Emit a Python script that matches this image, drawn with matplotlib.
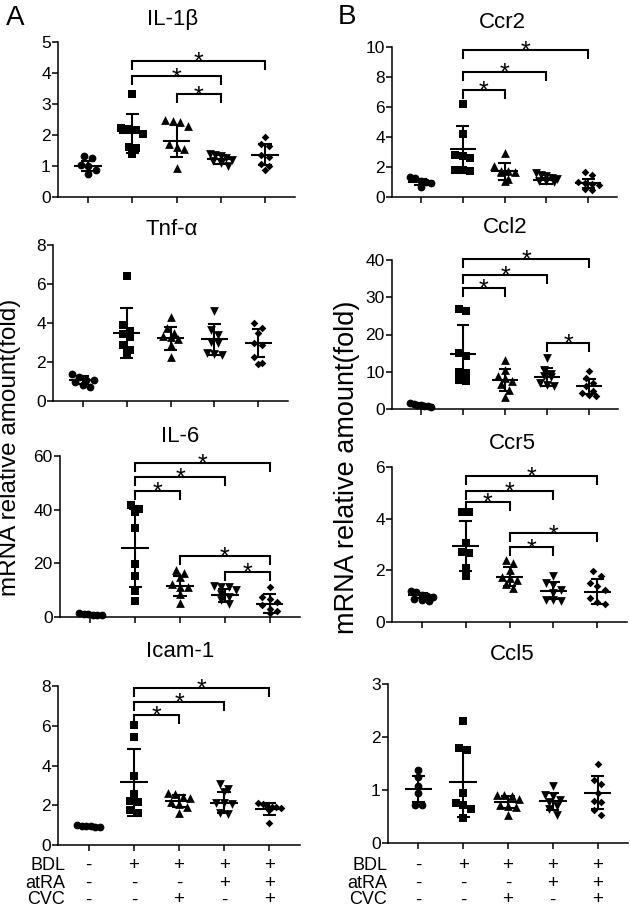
import numpy as np
import matplotlib
matplotlib.use('Agg')
import matplotlib.pyplot as plt
from matplotlib.transforms import blended_transform_factory

plt.rcParams['font.family'] = ['Liberation Sans', 'DejaVu Sans']

# ---------------- data ----------------
il1b = [[1.32, 1.26, 1.02, 1.00, 0.86, 0.73],
        [3.31, 2.24, 2.20, 2.17, 2.04, 1.61, 1.58, 1.40],
        [2.48, 2.45, 2.42, 2.30, 1.70, 1.62, 1.55, 0.93],
        [1.40, 1.37, 1.33, 1.25, 1.20, 1.15, 1.10, 1.00],
        [1.94, 1.70, 1.65, 1.37, 1.29, 1.08, 1.00, 0.86]]
il1b_mean = [1.00, 2.06, 1.80, 1.21, 1.37]
il1b_sd = [0.17, 0.63, 0.51, 0.16, 0.33]
il1b_sig = [(1, 4, 4.39), (1, 3, 3.89), (2, 3, 3.31)]

ccr2 = [[1.35, 1.30, 1.05, 1.00, 0.95, 0.70],
        [6.20, 4.20, 2.80, 2.75, 2.60, 1.80, 1.80, 1.75],
        [2.96, 2.10, 1.75, 1.72, 1.68, 1.65, 1.22, 1.10],
        [1.60, 1.50, 1.40, 1.25, 1.20, 1.10, 1.05, 1.00],
        [1.67, 1.44, 1.00, 0.95, 0.90, 0.80, 0.55, 0.45]]
ccr2_mean = [1.00, 3.18, 1.73, 1.16, 0.93]
ccr2_sd = [0.22, 1.55, 0.57, 0.30, 0.30]
ccr2_sig = [(1, 4, 9.78), (1, 3, 8.33), (1, 2, 7.16)]

tnfa = [[1.38, 1.25, 1.10, 1.06, 0.99, 0.82, 0.73],
        [6.43, 3.90, 3.60, 3.42, 3.30, 2.87, 2.62, 2.44],
        [4.32, 3.73, 3.50, 3.33, 3.30, 3.20, 2.87, 2.27],
        [4.63, 3.64, 3.38, 3.04, 2.99, 2.48, 2.41, 2.36],
        [3.98, 3.73, 3.50, 2.96, 2.87, 2.27, 1.97, 1.90]]
tnfa_mean = [1.08, 3.50, 3.21, 3.16, 2.96]
tnfa_sd = [0.20, 1.27, 0.57, 0.81, 0.72]
tnfa_sig = []

ccl2 = [[1.6, 1.3, 1.1, 1.0, 0.9, 0.7, 0.5],
        [26.8, 26.3, 15.0, 14.1, 9.9, 9.6, 7.7, 7.6],
        [13.2, 10.5, 8.75, 8.3, 7.4, 6.8, 5.2, 3.2],
        [13.7, 10.5, 9.4, 8.75, 8.5, 7.0, 6.5, 6.3],
        [10.1, 8.3, 7.1, 6.1, 4.7, 4.3, 3.8, 3.4]]
ccl2_mean = [1.0, 14.8, 7.7, 8.6, 6.1]
ccl2_sd = [0.3, 7.7, 3.0, 2.4, 1.95]
ccl2_sig = [(1, 4, 40.2), (1, 3, 36.0), (1, 2, 32.4), (3, 4, 17.7)]

il6 = [[1.5, 1.2, 1.0, 0.9, 0.8, 0.6],
       [41.7, 40.2, 39.0, 33.2, 19.9, 15.3, 9.6, 5.9],
       [17.4, 16.4, 14.9, 12.2, 11.2, 11.0, 8.7, 5.2],
       [11.5, 11.3, 11.0, 10.2, 8.7, 7.5, 6.2, 4.7],
       [11.2, 7.5, 6.8, 5.6, 4.4, 3.1, 2.1, 1.5]]
il6_mean = [1.0, 25.8, 11.5, 8.1, 5.0]
il6_sd = [0.3, 14.5, 3.8, 2.5, 3.4]
il6_sig = [(1, 4, 57.3), (1, 3, 52.3), (1, 2, 47.1), (2, 4, 22.7), (3, 4, 16.8)]

ccr5 = [[1.20, 1.15, 1.05, 1.00, 0.95, 0.90, 0.85, 0.80],
        [4.27, 4.25, 3.05, 2.70, 2.68, 2.10, 1.78],
        [2.40, 2.28, 2.02, 1.76, 1.70, 1.63, 1.48, 1.31],
        [1.79, 1.50, 1.44, 1.25, 1.12, 0.86, 0.84, 0.80],
        [1.99, 1.80, 1.50, 1.38, 1.25, 0.93, 0.76, 0.71]]
ccr5_mean = [1.03, 2.94, 1.76, 1.21, 1.18]
ccr5_sd = [0.10, 0.97, 0.38, 0.32, 0.47]
ccr5_sig = [(1, 4, 5.66), (1, 3, 5.06), (1, 2, 4.65), (2, 4, 3.43), (2, 3, 2.89)]

icam1 = [[1.00, 0.98, 0.97, 0.95, 0.93, 0.92],
         [6.04, 5.42, 3.47, 2.57, 2.23, 2.18, 1.76, 1.63],
         [2.63, 2.57, 2.40, 2.35, 2.18, 2.06, 1.93, 1.63],
         [3.07, 2.80, 2.65, 2.13, 2.10, 2.08, 1.60, 1.56],
         [2.13, 2.06, 1.98, 1.93, 1.91, 1.85, 1.76, 1.12]]
icam1_mean = [0.96, 3.15, 2.23, 2.13, 1.80]
icam1_sd = [0.03, 1.70, 0.31, 0.54, 0.29]
icam1_sig = [(1, 4, 7.89), (1, 3, 7.21), (1, 2, 6.54)]

ccl5 = [[1.37, 1.24, 1.08, 0.94, 0.72, 0.72],
        [2.30, 1.79, 1.75, 0.94, 0.75, 0.71, 0.64, 0.48],
        [0.91, 0.90, 0.88, 0.83, 0.72, 0.69, 0.68, 0.53],
        [1.08, 0.91, 0.89, 0.82, 0.77, 0.70, 0.64, 0.53],
        [1.50, 1.19, 1.12, 0.94, 0.79, 0.78, 0.62, 0.53]]
ccl5_mean = [1.02, 1.16, 0.77, 0.79, 0.95]
ccl5_sd = [0.25, 0.66, 0.11, 0.16, 0.31]
ccl5_sig = []

row_labels = ['BDL', 'atRA', 'CVC']
bdl = ['-', '+', '+', '+', '+']
atra = ['-', '-', '-', '+', '+']
cvc = ['-', '-', '+', '-', '+']
ylabel = 'mRNA relative amount(fold)'

# ---------------- figure ----------------
W, H = 630, 909
fig = plt.figure(figsize=(W / 100, H / 100), dpi=100)

markers = ['o', 's', '^', 'v', 'D']
msizes = [5.6, 5.3, 6.3, 6.3, 3.9]
LW = 1.5


def px_axes(x0, y0, x1, y1):
    return fig.add_axes([x0 / W, 1 - y1 / H, (x1 - x0) / W, (y1 - y0) / H])


def swarm_offsets(vals, ppu, mpx=6.5, step=0.17, maxhalf=0.25):
    vals = np.asarray(vals, float)
    order = np.argsort(-vals, kind='stable')
    rows, cur = [], [order[0]]
    for i in order[1:]:
        if (vals[cur[0]] - vals[i]) * ppu < mpx:
            cur.append(i)
        else:
            rows.append(cur)
            cur = [i]
    rows.append(cur)
    xo = np.zeros(len(vals))
    for r in rows:
        n = len(r)
        st = step if n == 1 else min(step, 2 * maxhalf / (n - 1))
        for j, i in enumerate(r):
            xo[i] = (j - (n - 1) / 2) * st
    return xo


def draw_panel(box, data, means, sds, ymax, ystep, sig, title, tpos):
    ax = px_axes(*box)
    ax.set_xlim(-0.68, 4.68)
    ax.set_ylim(0, ymax)
    ppu = (box[3] - box[1]) / ymax
    for g, vals in enumerate(data):
        xo = swarm_offsets(vals, ppu)
        ax.scatter(g + xo, vals, marker=markers[g], s=msizes[g] ** 2,
                   c='black', linewidths=0, zorder=3, clip_on=False)
        m, s = means[g], sds[g]
        kw = dict(color='black', lw=LW, zorder=4, solid_capstyle='butt', clip_on=False)
        ax.plot([g - 0.31, g + 0.31], [m, m], **kw)
        ax.plot([g, g], [m - s, m + s], **kw)
        ax.plot([g - 0.15, g + 0.15], [m + s, m + s], **kw)
        ax.plot([g - 0.15, g + 0.15], [m - s, m - s], **kw)
    t = 9 / ppu
    for (i, j, y) in sig:
        ax.plot([i, i, j, j], [y - t, y, y, y - t], color='black', lw=LW,
                clip_on=False, solid_joinstyle='miter', solid_capstyle='butt')
        ax.annotate('*', xy=((i + j) / 2, y), xytext=(0, -6.5),
                    textcoords='offset points', ha='center', va='baseline',
                    fontsize=18, annotation_clip=False)
    for sp in ['top', 'right']:
        ax.spines[sp].set_visible(False)
    for sp in ['left', 'bottom']:
        ax.spines[sp].set_linewidth(1.1)
    ax.set_xticks(range(5))
    ax.set_xticklabels([])
    yt = np.arange(0, ymax + ystep / 2, ystep)
    ax.set_yticks(yt)
    ax.set_yticklabels([f'{v:g}' for v in yt])
    ax.tick_params(axis='both', direction='out', length=4, width=1.1,
                   labelsize=12.5, pad=1.2)
    fig.text(tpos[0] / W, 1 - tpos[1] / H, title, ha='center', va='baseline',
             fontsize=16)
    return ax


draw_panel((58, 42, 295, 197), il1b, il1b_mean, il1b_sd, 5, 1, il1b_sig, 'IL-1β', (173, 25))
draw_panel((392, 47, 617, 197), ccr2, ccr2_mean, ccr2_sd, 10, 2, ccr2_sig, 'Ccr2', (502, 28))
draw_panel((53, 245, 288, 401), tnfa, tnfa_mean, tnfa_sd, 8, 2, tnfa_sig, 'Tnf-α', (172, 235))
draw_panel((392, 260, 618, 409), ccl2, ccl2_mean, ccl2_sd, 40, 10, ccl2_sig, 'Ccl2', (505, 233))
draw_panel((60, 456, 300, 617), il6, il6_mean, il6_sd, 60, 20, il6_sig, 'IL-6', (180, 442))
draw_panel((392, 467, 627, 622), ccr5, ccr5_mean, ccr5_sd, 6, 2, ccr5_sig, 'Ccr5', (512, 449))
axA4 = draw_panel((58, 686, 300, 845), icam1, icam1_mean, icam1_sd, 8, 2, icam1_sig, 'Icam-1', (180, 657))
axB4 = draw_panel((388, 684, 628, 843), ccl5, ccl5_mean, ccl5_sd, 3, 1, ccl5_sig, 'Ccl5', (512, 660))

# treatment table
baselines = [870, 888, 904.5]
for ax, xr in [(axA4, 65), (axB4, 387)]:
    tr = blended_transform_factory(ax.transData, fig.transFigure)
    for r, (lab, signs) in enumerate(zip(row_labels, [bdl, atra, cvc])):
        yb = 1 - baselines[r] / H
        fig.text(xr / W, yb, lab, ha='right', va='baseline', fontsize=13)
        for g, sgn in enumerate(signs):
            ax.text(g, yb, sgn, transform=tr, ha='center', va='baseline',
                    fontsize=13.5, clip_on=False)

# panel letters
fig.text(6 / W, 1 - 25 / H, 'A', ha='left', va='baseline', fontsize=20)
fig.text(338 / W, 1 - 24 / H, 'B', ha='left', va='baseline', fontsize=20)

# y labels
fig.text(10 / W, 1 - 447 / H, ylabel, rotation=90, ha='center', va='center', fontsize=17.5)
fig.text(347 / W, 1 - 467 / H, ylabel, rotation=90, ha='center', va='center', fontsize=19.5)

fig.savefig('out.png', dpi=100)
